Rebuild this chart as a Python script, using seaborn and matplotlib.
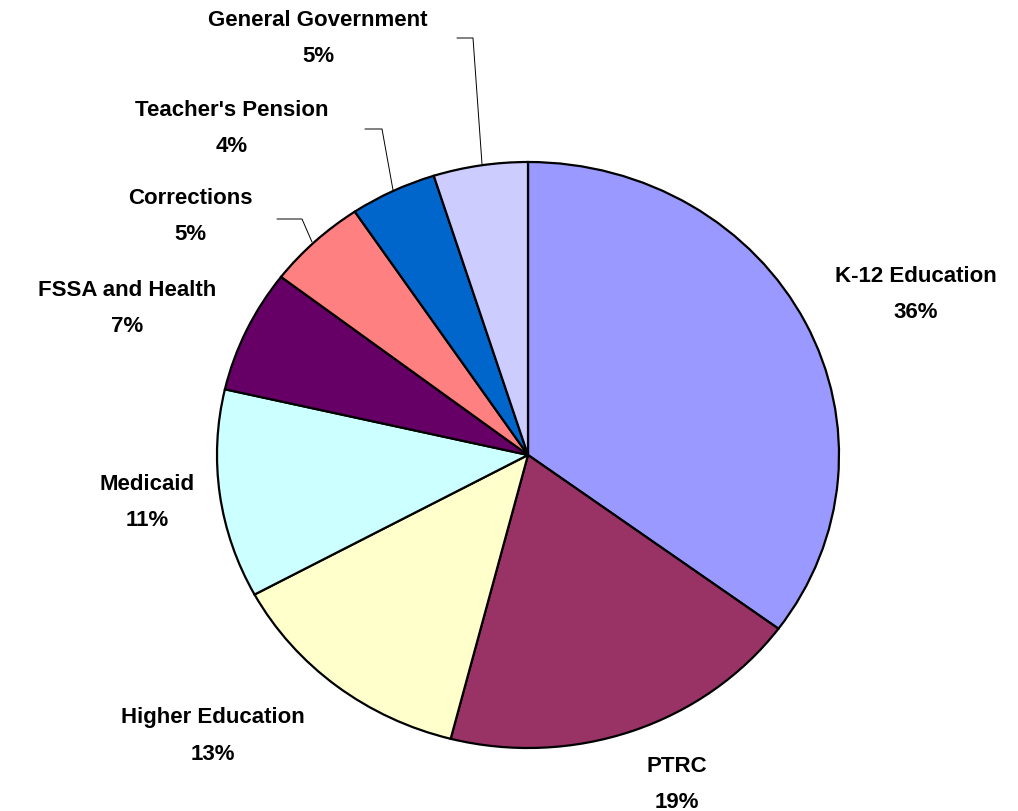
import matplotlib
matplotlib.use("Agg")
import matplotlib.pyplot as plt
import seaborn as sns

# slices, clockwise from 12 o'clock
categories = ["K-12 Education", "PTRC", "Higher Education", "Medicaid",
              "FSSA and Health", "Corrections", "Teacher's Pension",
              "General Government"]
shares = [35.1, 18.9, 13.1, 11.5, 6.8, 5.2, 4.5, 4.9]
pct_labels = ["36%", "19%", "13%", "11%", "7%", "5%", "4%", "5%"]
colors = ["#9999FF", "#993366", "#FFFFCC", "#CCFFFF",
          "#660066", "#FF8080", "#0066CC", "#CCCCFF"]

W, H = 1018, 811


def main():
    sns.set_style("white")
    plt.rcParams["font.family"] = ["Liberation Sans", "DejaVu Sans"]

    fig = plt.figure(figsize=(W / 100, H / 100), dpi=100)

    # the pie is slightly squashed (wider than tall), so give it its own axes
    cx, cy, rx, ry = 528, 455, 311, 293
    pie_ax = fig.add_axes([(cx - rx) / W, (H - cy - ry) / H,
                           2 * rx / W, 2 * ry / H])
    pie_ax.pie(shares, colors=colors, startangle=90, counterclock=False,
               radius=1, wedgeprops=dict(edgecolor="black", linewidth=1.6))
    pie_ax.set_aspect("auto")
    pie_ax.set_xlim(-1, 1)
    pie_ax.set_ylim(-1, 1)
    pie_ax.axis("off")

    # overlay in pixel units for labels and leader lines
    ax = fig.add_axes([0, 0, 1, 1], facecolor="none")
    ax.set_xlim(0, W)
    ax.set_ylim(H, 0)
    ax.axis("off")

    spots = [(916, 277), (677, 766), (213, 718), (147, 484),
             (127, 290), (190, 199), (232, 110), (318, 20)]
    for name, pct, (x, y) in zip(categories, pct_labels, spots):
        ax.text(x, y, name, ha="center", va="center", color="black",
                fontsize=16, fontweight="bold")
        ax.text(x, y + 36, pct, ha="center", va="center", color="black",
                fontsize=16, fontweight="bold")

    # leader lines for the small slices
    leaders = [
        [(457, 38), (473, 38), (482, 164)],
        [(365, 129), (382, 129), (393, 190)],
        [(277, 219), (302, 219), (312, 242)],
    ]
    for pts in leaders:
        ax.plot([p[0] for p in pts], [p[1] for p in pts],
                color="black", linewidth=0.7)

    fig.savefig("out.png", dpi=100)


if __name__ == "__main__":
    main()
